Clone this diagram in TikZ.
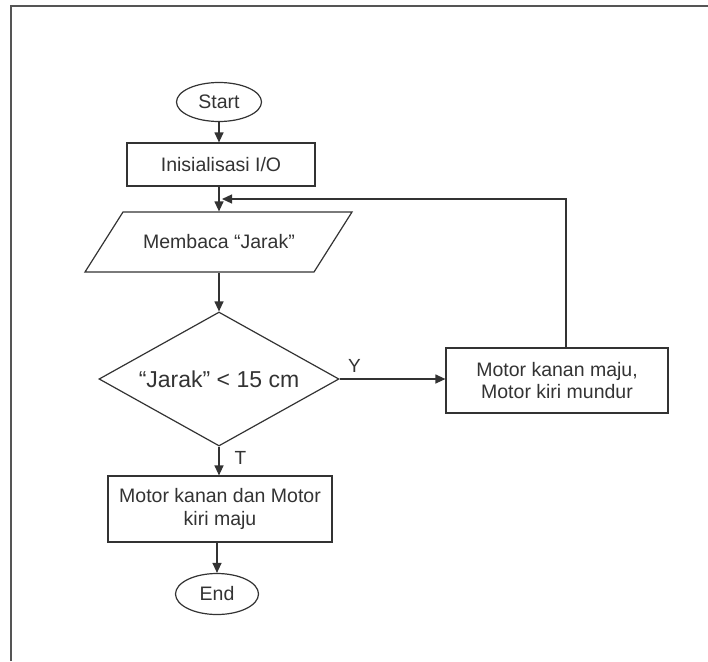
\documentclass[tikz,border=0pt]{standalone}
\usepackage{fontspec}
\setmainfont{Liberation Sans}
\usetikzlibrary{arrows.meta,shapes.geometric,calc}
\definecolor{ink}{HTML}{333333}
\definecolor{frame}{HTML}{555555}
\begin{document}
\begin{tikzpicture}[x=1pt,y=-1pt,
  line width=1.2pt,
  every node/.style={font=\fontsize{19.5}{22.5}\selectfont, text=ink, inner sep=0pt, align=center},
  term/.style={ellipse, draw=ink, minimum width=85pt, minimum height=39pt},
  procbox/.style={rectangle, draw=ink},
  decbox/.style={diamond, draw=ink, aspect=1.8, minimum width=240pt, minimum height=134pt, font=\fontsize{23}{26}\selectfont},
  flow/.style={draw=ink, -{Triangle[length=10pt,width=9pt]}},
  lbl/.style={font=\fontsize{19}{22}\selectfont}
]
\useasboundingbox (0,0) rectangle (708,661);
\fill[white] (0,0) rectangle (708,661);
% frame
\draw[frame, line width=1.5pt] (11,661) -- (11,6) -- (708,6);

\node[term] (start) at (219,102) {Start};
\node[procbox, minimum width=188pt, minimum height=43pt] (init) at (221,164.5) {Inisialisasi I/O};
\node[minimum width=150pt, minimum height=60pt] (read) at (219,242) {Membaca “Jarak”};
\draw[ink] (123,212) -- (352,212) -- (314,272) -- (85,272) -- cycle;
\node[decbox] (dec) at (219,379) {“Jarak” < 15 cm};
\node[procbox, minimum width=222pt, minimum height=65pt] (turn) at (557,380.5) {Motor kanan maju,\\Motor kiri mundur};
\node[procbox, minimum width=224pt, minimum height=66pt] (fwd) at (220,509) {Motor kanan dan Motor\\kiri maju};
\node[term, minimum width=83pt, minimum height=41pt] (end) at (217,594) {End};

\coordinate (fbtop) at (566,199);
\coordinate (fbend) at (219,199);

\draw[flow] (start.south) -- (start.south |- init.north);
\draw[flow] (init.south -| read.north) -- (read.north);
\draw[flow] (read.south) -- (dec.north);
\draw[flow] (dec.east) -- (dec.east -| turn.west);
\node[lbl, anchor=south west] (ylab) at ($(dec.east)+(8,-6)$) {Y};
\draw[flow] (dec.south) -- (dec.south |- fwd.north);
\node[lbl, anchor=west] (tlab) at ($(dec.south)!0.4!(dec.south |- fwd.north)+(15,0)$) {T};
\draw[flow] (fwd.south -| end.north) -- (end.north);
\draw[flow] (fbtop |- turn.north) -- (fbtop) -- ($(fbend)+(3,0)$);
\end{tikzpicture}
\end{document}
